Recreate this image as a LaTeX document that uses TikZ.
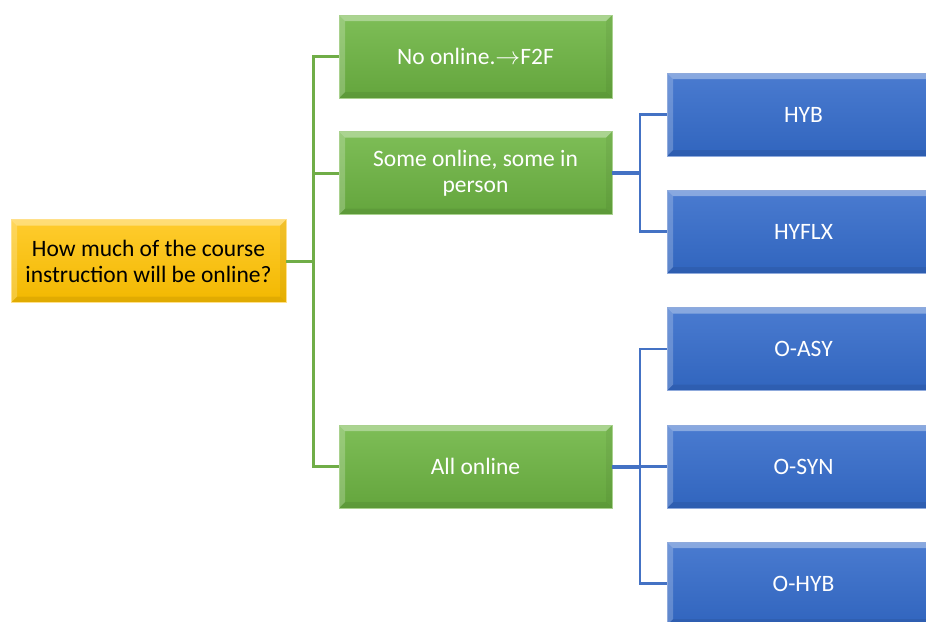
\documentclass[tikz,border=0pt]{standalone}
\usepackage{fontspec}
\setmainfont{Carlito}
\definecolor{gtop}{HTML}{7EBE57}
\definecolor{gbot}{HTML}{64A53D}
\definecolor{gedge}{HTML}{A9D18E}
\definecolor{gline}{HTML}{70AD47}
\definecolor{btop}{HTML}{4A7BD0}
\definecolor{bbot}{HTML}{3165BE}
\definecolor{bedge}{HTML}{8FAADC}
\definecolor{bline}{HTML}{4472C4}
\definecolor{ytop}{HTML}{FFCC2E}
\definecolor{ybot}{HTML}{F2B800}
\definecolor{yedge}{HTML}{FFE08A}
\tikzset{
  bevel/.style={path picture={
    \def\bw{6pt}
    \fill[white,opacity=0.35] (path picture bounding box.north west) -- (path picture bounding box.north east)
      -- ([xshift=-\bw,yshift=-\bw]path picture bounding box.north east) -- ([xshift=\bw,yshift=-\bw]path picture bounding box.north west) -- cycle;
    \fill[white,opacity=0.22] (path picture bounding box.north west) -- ([xshift=\bw,yshift=-\bw]path picture bounding box.north west)
      -- ([xshift=\bw,yshift=\bw]path picture bounding box.south west) -- (path picture bounding box.south west) -- cycle;
    \fill[black,opacity=0.07] (path picture bounding box.south west) -- ([xshift=\bw,yshift=\bw]path picture bounding box.south west)
      -- ([xshift=-\bw,yshift=\bw]path picture bounding box.south east) -- (path picture bounding box.south east) -- cycle;
    \fill[black,opacity=0.05] (path picture bounding box.north east) -- ([xshift=-\bw,yshift=-\bw]path picture bounding box.north east)
      -- ([xshift=-\bw,yshift=\bw]path picture bounding box.south east) -- (path picture bounding box.south east) -- cycle;
  }},
  boxbase/.style={bevel, minimum width=274pt, minimum height=83pt, inner sep=0pt,
    align=center, font=\fontsize{23.5}{26}\selectfont, line width=0.8pt},
  ybox/.style={boxbase, top color=ytop, bottom color=ybot, draw=yedge, text=black, minimum width=275pt},
  gbox/.style={boxbase, top color=gtop, bottom color=gbot, draw=gedge, text=white, minimum width=273pt},
  bbox/.style={boxbase, top color=btop, bottom color=bbot, draw=bedge, text=white, minimum width=273pt},
  gconn/.style={draw=gline, line width=3pt},
  bconn/.style={draw=bline, line width=2.2pt},
  bconnthick/.style={draw=bline, line width=4pt},
}
\begin{document}
\begin{tikzpicture}[x=1pt,y=-1pt]
\useasboundingbox (0,0) rectangle (926,621);
\node[ybox] (q) at (148.5,261) {How much of the course\\instruction will be online?};
\node[gbox] (g1) at (475.5,56.5) {No online.$\rightarrow$F2F};
\node[gbox] (g2) at (475.5,173) {Some online, some in\\person};
\node[gbox] (g3) at (475.5,466.5) {All online};
\node[bbox] (b1) at (803.5,114.5) {HYB};
\node[bbox] (b2) at (803.5,231.5) {HYFLX};
\node[bbox] (b3) at (803.5,349) {O-ASY};
\node[bbox] (b4) at (803.5,466.5) {O-SYN};
\node[bbox] (b5) at (803.5,583.5) {O-HYB};
\coordinate (gb) at (313,261);
\coordinate (bb) at (640,173);
\draw[gconn] (q.east) -- (gb);
\draw[gconn] (g1.west) -- (g1.west -| gb) -- (g3.west -| gb) -- (g3.west);
\draw[gconn] (g2.west) -- (g2.west -| gb);
\draw[bconn] (b1.west) -- (b1.west -| bb) -- (b2.west -| bb) -- (b2.west);
\draw[bconnthick] (g2.east) -- (g2.east -| bb);
\draw[bconn] (b3.west) -- (b3.west -| bb) -- (b5.west -| bb) -- (b5.west);
\draw[bconn] (b4.west) -- (b4.west -| bb);
\draw[bconnthick] (g3.east) -- (g3.east -| bb);
\end{tikzpicture}
\end{document}
